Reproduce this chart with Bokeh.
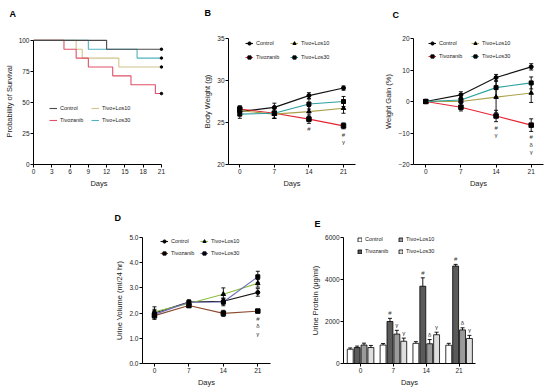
from bokeh.plotting import figure
from bokeh.models import (ColumnDataSource, Whisker, TeeHead, Legend, LegendItem, Title,
                          FixedTicker, Spacer, Range1d, PrintfTickFormatter)
from bokeh.layouts import column, row
from bokeh.core.properties import value
from bokeh.embed import file_html
from bokeh.resources import INLINE

FONT = "Liberation Sans"
groups = ["Control", "Tivozanib", "Tivo+Los10", "Tivo+Los30"]
days = [0, 7, 14, 21]

# ---- Panel A: survival (Kaplan-Meier steps)
km_ctrl_days = [0, 12, 21]
km_ctrl_surv = [100, 92.86, 92.86]
km_tivo_days = [0, 5, 7, 9, 13, 16, 20, 21]
km_tivo_surv = [100, 92.86, 85.71, 78.57, 71.43, 64.29, 57.14, 57.14]
km_los10_days = [0, 7, 8, 14, 21]
km_los10_surv = [100, 92.86, 85.71, 78.57, 78.57]
km_los30_days = [0, 9, 17, 21]
km_los30_surv = [100, 92.86, 85.71, 85.71]
km_xticks = [0, 3, 6, 9, 12, 15, 18, 21]
km_yticks = [0, 25, 50, 75, 100]

# ---- Panel B: body weight (g)
bw_ctrl = [26.3, 26.8, 28.2, 29.1]
bw_ctrl_err = [0.5, 0.5, 0.35, 0.25]
bw_tivo = [26.6, 26.1, 25.4, 24.6]
bw_tivo_err = [0.4, 0.6, 0.5, 0.35]
bw_los10 = [26.4, 26.0, 26.3, 26.7]
bw_los10_err = [0.5, 0.5, 0.6, 0.6]
bw_los30 = [26.0, 26.1, 27.2, 27.5]
bw_los30_err = [0.5, 0.6, 0.6, 0.6]
bw_yticks = [20, 25, 30, 35]
ann_b_day = [14, 21, 21]
ann_b_text = ["#", "#", "γ"]

# ---- Panel C: weight gain (%)
wg_ctrl = [0, 2.1, 7.6, 11.0]
wg_ctrl_err = [0, 1.0, 1.0, 1.0]
wg_tivo = [0, -1.8, -4.6, -7.5]
wg_tivo_err = [0, 1.2, 1.8, 2.0]
wg_los10 = [0, 0.0, 1.4, 2.7]
wg_los10_err = [0, 1.3, 5.0, 3.0]
wg_los30 = [0, 0.5, 4.4, 5.9]
wg_los30_err = [0, 2.0, 3.0, 1.9]
wg_yticks = [-20, -10, 0, 10, 20]
ann_c_day = [14, 14, 21, 21, 21]
ann_c_text = ["#", "γ", "#", "δ", "γ"]

# ---- Panel D: urine volume (ml/24 hr)
uv_ctrl = [2.0, 2.44, 2.47, 2.82]
uv_ctrl_err = [0.15, 0.08, 0.12, 0.15]
uv_tivo = [1.9, 2.3, 1.99, 2.08]
uv_tivo_err = [0.15, 0.08, 0.12, 0.06]
uv_los10 = [2.05, 2.38, 2.75, 3.18]
uv_los10_err = [0.2, 0.08, 0.25, 0.15]
uv_los30 = [1.95, 2.43, 2.44, 3.44]
uv_los30_err = [0.15, 0.08, 0.15, 0.22]
uv_yticks = [0, 1, 2, 3, 4, 5]
ann_d_day = [21, 21, 21]
ann_d_text = ["#", "δ", "γ"]

# ---- Panel E: urine protein (ug/ml)
up_ctrl = [680, 880, 960, 870]
up_ctrl_err = [60, 70, 80, 90]
up_tivo = [760, 2000, 3680, 4640]
up_tivo_err = [70, 150, 400, 80]
up_los10 = [880, 1400, 940, 1600]
up_los10_err = [90, 180, 200, 100]
up_los30 = [760, 1060, 1370, 1190]
up_los30_err = [100, 150, 120, 150]
up_yticks = [0, 2000, 4000, 6000]
up_xlabels = ["0", "7", "14", "21"]
ann_e_group = ["Tivozanib", "Tivozanib", "Tivozanib", "Tivo+Los10", "Tivo+Los30",
               "Tivo+Los10", "Tivo+Los30", "Tivo+Los10", "Tivo+Los30"]
ann_e_day = [7, 14, 21, 7, 7, 14, 14, 21, 21]
ann_e_text = ["#", "#", "#", "γ", "γ", "δ", "γ", "δ", "γ"]


def make_fig(w, h, left, right, top, bottom, xr, yr, letter, letter_off, gap):
    p = figure(width=w, height=h, x_range=Range1d(*xr), y_range=Range1d(*yr),
               output_backend="svg", toolbar_location=None,
               min_border_left=left, min_border_right=right,
               min_border_top=top, min_border_bottom=bottom, title=None)
    # spacer between frame and panel letter, then the letter itself
    p.add_layout(Title(text=" ", standoff=gap, text_font_size="2px"), "above")
    p.add_layout(Title(text=letter, align="left", offset=letter_off, standoff=0,
                       text_font=FONT, text_font_size="9px", text_font_style="bold",
                       text_color="black"), "above")
    p.grid.visible = False
    p.outline_line_color = None
    for ax in p.axis:
        ax.axis_line_color = "black"
        ax.axis_line_width = 1
        ax.major_tick_out = 3
        ax.major_tick_in = 0
        ax.major_tick_line_color = "black"
        ax.minor_tick_line_color = None
        ax.major_label_text_font = FONT
        ax.major_label_text_font_size = "6.5px"
        ax.major_label_text_color = "#222222"
        ax.axis_label_text_font = FONT
        ax.axis_label_text_font_size = "7.5px"
        ax.axis_label_text_font_style = "normal"
        ax.axis_label_text_color = "#222222"
        ax.major_label_standoff = 1
        ax.axis_label_standoff = 2
    return p


def make_legend(items, x, y, glyph_w=8, glyph_h=8, label_w=27, spacing=4):
    return Legend(items=items, location=(x, y), orientation="vertical", ncols=2,
                  glyph_width=glyph_w, glyph_height=glyph_h, label_standoff=3,
                  label_width=label_w, spacing=spacing, padding=0, margin=0,
                  border_line_alpha=0, background_fill_alpha=0,
                  label_text_font=FONT, label_text_font_size="5.5px",
                  label_text_color="#222222", label_height=6)


# ================= Panel A =================
pa = make_fig(178, 190, 33, 14, 37, 24, (0, 21.5), (0, 101.5), "A", -24, 16)
pa.xaxis.ticker = FixedTicker(ticks=km_xticks)
pa.yaxis.ticker = FixedTicker(ticks=km_yticks)
pa.xaxis.bounds = (0, 21)
pa.yaxis.bounds = (0, 100)
pa.xaxis.axis_label = "Days"
pa.yaxis.axis_label = "Probability of Survival"
a_cols = {"Control": "#4a4a4a", "Tivozanib": "#e0506a", "Tivo+Los10": "#cfc48a", "Tivo+Los30": "#4fb2c2"}
a_data = {"Control": (km_ctrl_days, km_ctrl_surv), "Tivozanib": (km_tivo_days, km_tivo_surv),
          "Tivo+Los10": (km_los10_days, km_los10_surv), "Tivo+Los30": (km_los30_days, km_los30_surv)}
a_items = {}
for g in ["Tivo+Los30", "Tivo+Los10", "Tivozanib", "Control"]:
    xs, ys = a_data[g]
    ln = pa.step(xs, ys, mode="after", line_color=a_cols[g], line_width=1.1)
    pa.scatter([xs[-1]], [ys[-1]], marker="circle", size=2.5, color="black")
    a_items[g] = LegendItem(label=g, renderers=[ln])
pa.add_layout(make_legend([a_items[g] for g in groups], 16, 40, glyph_w=8, glyph_h=8, label_w=27, spacing=4))

# ============ helper for line panels ============
line_markers = {"Control": ("circle", 4), "Tivozanib": ("square", 4.5),
                "Tivo+Los10": ("triangle", 4.5), "Tivo+Los30": ("square", 4)}


def line_panel(p, means, errs, cols, ann_days, ann_texts, leg_xy, leg_label_w, leg_spacing):
    items = []
    for g in groups:
        src = ColumnDataSource(dict(x=days, y=means[g],
                                    upper=[m + e for m, e in zip(means[g], errs[g])],
                                    lower=[m - e for m, e in zip(means[g], errs[g])]))
        p.add_layout(Whisker(base="x", upper="upper", lower="lower", source=src,
                             line_color="black", line_width=0.9,
                             upper_head=TeeHead(size=4, line_color="black", line_width=0.9),
                             lower_head=TeeHead(size=4, line_color="black", line_width=0.9)))
    for g in groups:
        src = ColumnDataSource(dict(x=days, y=means[g]))
        ln = p.line("x", "y", source=src, line_color=cols[g], line_width=1.1)
        mk, sz = line_markers[g]
        sc = p.scatter("x", "y", source=src, marker=mk, size=sz, color="black")
        items.append(LegendItem(label=g, renderers=[ln, sc]))
    ys, offs, k_prev, k = [], [], None, 0
    for d, t in zip(ann_days, ann_texts):
        k = k + 1 if d == k_prev else 0
        k_prev = d
        i = days.index(d)
        ys.append(means["Tivozanib"][i] - errs["Tivozanib"][i])
        offs.append(6 + 7.5 * k)
    asrc = ColumnDataSource(dict(x=ann_days, y=ys, t=ann_texts, off=offs))
    p.text("x", "y", text="t", y_offset="off", source=asrc, text_font=value(FONT),
           text_font_size="6px", text_align="center", text_baseline="middle", text_color="#333333")
    p.add_layout(make_legend(items, leg_xy[0], leg_xy[1], label_w=leg_label_w, spacing=leg_spacing))


col_bc = {"Control": "#111111", "Tivozanib": "#e52532", "Tivo+Los10": "#aca14a", "Tivo+Los30": "#2aa0a0"}

# ================= Panel B =================
pb = make_fig(182, 190, 50, 5, 38, 24, (-2.29, 23.43), (20, 35), "B", -24, 17)
pb.xaxis.ticker = FixedTicker(ticks=days)
pb.yaxis.ticker = FixedTicker(ticks=bw_yticks)
pb.xaxis.axis_label = "Days"
pb.yaxis.axis_label = "Body Weight (g)"
line_panel(pb, {"Control": bw_ctrl, "Tivozanib": bw_tivo, "Tivo+Los10": bw_los10, "Tivo+Los30": bw_los30},
           {"Control": bw_ctrl_err, "Tivozanib": bw_tivo_err, "Tivo+Los10": bw_los10_err, "Tivo+Los30": bw_los30_err},
           col_bc, ann_b_day, ann_b_text, (17, 103), 28, 6)

# ================= Panel C =================
pc = make_fig(190, 190, 53, 7, 36, 24, (-2.45, 23.45), (-20, 20), "C", -21, 15)
pc.xaxis.ticker = FixedTicker(ticks=days)
pc.yaxis.ticker = FixedTicker(ticks=wg_yticks)
pc.xaxis.axis_label = "Days"
pc.yaxis.axis_label = "Weight Gain (%)"
line_panel(pc, {"Control": wg_ctrl, "Tivozanib": wg_tivo, "Tivo+Los10": wg_los10, "Tivo+Los30": wg_los30},
           {"Control": wg_ctrl_err, "Tivozanib": wg_tivo_err, "Tivo+Los10": wg_los10_err, "Tivo+Los30": wg_los30_err},
           col_bc, ann_c_day, ann_c_text, (15, 104), 27, 5)

# ================= Panel D =================
col_d = {"Control": "#1a1a1a", "Tivozanib": "#8c4a2f", "Tivo+Los10": "#8cbf3f", "Tivo+Los30": "#6a6ab8"}
pd_ = make_fig(185, 199, 32, 25, 47, 24, (-2.43, 23.58), (0, 5), "D", -28, 11)
pd_.xaxis.ticker = FixedTicker(ticks=days)
pd_.yaxis.ticker = FixedTicker(ticks=uv_yticks)
pd_.yaxis.formatter = PrintfTickFormatter(format="%.1f")
pd_.xaxis.axis_label = "Days"
pd_.yaxis.axis_label = "Urine Volume (ml/24 hr)"
line_panel(pd_, {"Control": uv_ctrl, "Tivozanib": uv_tivo, "Tivo+Los10": uv_los10, "Tivo+Los30": uv_los30},
           {"Control": uv_ctrl_err, "Tivozanib": uv_tivo_err, "Tivo+Los10": uv_los10_err, "Tivo+Los30": uv_los30_err},
           col_d, ann_d_day, ann_d_text, (18, 106), 25, 4)

# ================= Panel E =================
pe = make_fig(185, 199, 48, 5, 43, 24, (-0.52, 3.5), (0, 6000), "E", -29, 5)
pe.xaxis.ticker = FixedTicker(ticks=[0, 1, 2, 3])
pe.xaxis.major_label_overrides = {i: s for i, s in enumerate(up_xlabels)}
pe.yaxis.ticker = FixedTicker(ticks=up_yticks)
pe.xaxis.axis_label = "Days"
pe.yaxis.axis_label = "Urine Protein (μg/ml)"
e_means = {"Control": up_ctrl, "Tivozanib": up_tivo, "Tivo+Los10": up_los10, "Tivo+Los30": up_los30}
e_errs = {"Control": up_ctrl_err, "Tivozanib": up_tivo_err, "Tivo+Los10": up_los10_err, "Tivo+Los30": up_los30_err}
e_fill = {"Control": "#ffffff", "Tivozanib": "#5a5a5a", "Tivo+Los10": "#9a9a9a", "Tivo+Los30": "#dedede"}
e_off = {"Control": -0.315, "Tivozanib": -0.105, "Tivo+Los10": 0.105, "Tivo+Los30": 0.315}
e_items = []
for g in groups:
    xs = [i + e_off[g] for i in range(len(days))]
    src = ColumnDataSource(dict(x=xs, top=e_means[g],
                                upper=[m + e for m, e in zip(e_means[g], e_errs[g])],
                                lower=[m - e for m, e in zip(e_means[g], e_errs[g])]))
    r = pe.vbar(x="x", top="top", width=0.18, source=src, fill_color=e_fill[g],
                line_color="black", line_width=0.8)
    pe.add_layout(Whisker(base="x", upper="upper", lower="lower", source=src,
                          line_color="black", line_width=0.9,
                          upper_head=TeeHead(size=4, line_color="black", line_width=0.9),
                          lower_head=TeeHead(size=4, line_color="black", line_width=0.9)))
    e_items.append(LegendItem(label=g, renderers=[r]))
ex, ey = [], []
for g, d in zip(ann_e_group, ann_e_day):
    i = days.index(d)
    ex.append(i + e_off[g])
    ey.append(e_means[g][i] + e_errs[g][i])
esrc = ColumnDataSource(dict(x=ex, y=ey, t=ann_e_text))
pe.text("x", "y", text="t", y_offset=-5, source=esrc, text_font=value(FONT),
        text_font_size="6px", text_align="center", text_baseline="middle", text_color="#333333")
pe.add_layout(make_legend(e_items, 14, 109, glyph_w=5, glyph_h=5, label_w=27, spacing=6))

layout = column(row(pa, pb, pc), row(Spacer(width=110, height=199), pd_, pe))
open("out.html", "w").write(file_html(layout, INLINE))
